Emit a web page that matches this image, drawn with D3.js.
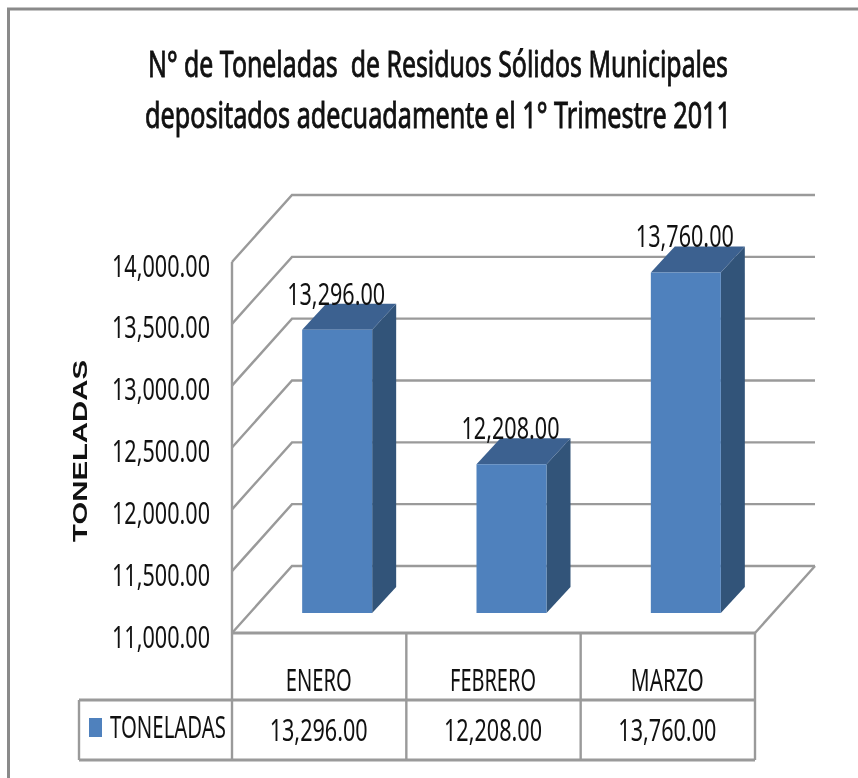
<!DOCTYPE html>
<html><head><meta charset="utf-8">
<script src="https://cdn.jsdelivr.net/npm/d3@7"></script>
<style>html,body{margin:0;padding:0;background:#fff}svg{display:block;filter:blur(0.45px)}text{font-family:"Noto Sans",sans-serif;fill:#111}</style>
</head><body><svg id="c" width="858" height="778"></svg>
<script>
const categories=["ENERO","FEBRERO","MARZO"];
const values=[13296,12208,13760];
const ticks=[11000,11500,12000,12500,13000,13500,14000];
const seriesName="TONELADAS";
const titleLines=["N° de Toneladas  de Residuos Sólidos Municipales","depositados adecuadamente el 1° Trimestre 2011"];
const categoryWidths=[66,86,73];
const svg=d3.select("#c");
const fmt=d3.format(",.2f");
const y=d3.scaleLinear().domain([11000,14000]).range([633,262]);
const x=d3.scaleBand().domain(categories).range([232,755]);
const wallDx=60,wallDy=-67,backRight=815;
const barW=70,barOff=18,barBase=613,bDx=24,bDy=-26;
const barH=v=>y(11000)-y(v);
const grey="#9a9a9a";
const line=(x1,y1,x2,y2,w=2.4,c=grey)=>svg.append("line").attr("x1",x1).attr("y1",y1).attr("x2",x2).attr("y2",y2).attr("stroke",c).attr("stroke-width",w);
// text drawn at a given size, then squeezed horizontally to a measured width
const txt=(s,cx,yy,fs,len,opts={})=>{
  const t=svg.append("text").attr("text-anchor","middle").attr("font-size",fs).style("white-space","pre").text(s);
  if(opts.bold)t.attr("stroke","#111").attr("stroke-width",opts.bold);
  const sx=len/t.node().getComputedTextLength();
  t.attr("transform",`translate(${cx},${yy}) scale(${sx},1)`);
  return t;
};
// frame
line(8.5,8,8.5,778,3,"#8a8a8a");line(7,9,858,9,3,"#8a8a8a");
// title
txt(titleLines[0],438,77,36,580,{bold:0.9});
txt(titleLines[1],438,128,36,586,{bold:0.9});
// walls and gridlines
ticks.forEach(t=>{
  const p=d3.path();
  p.moveTo(x.range()[0],y(t));p.lineTo(x.range()[0]+wallDx,y(t)+wallDy);p.lineTo(backRight,y(t)+wallDy);
  svg.append("path").attr("d",p).attr("fill","none").attr("stroke",grey).attr("stroke-width",2.4);
});
line(232,262,232,633);
// floor right
line(815,566,755,633);
// axis labels
const ax=svg.append("g").attr("transform","translate(210,0)").call(d3.axisLeft(y).tickValues(ticks).tickFormat(fmt).tickSize(0).tickPadding(0));
ax.select(".domain").remove();
ax.attr("font-size",null).attr("font-family",null);
ax.selectAll("text").attr("font-size",31).attr("dy",0).attr("x",0).attr("y",14).each(function(){
  const sx=98/this.getComputedTextLength();
  d3.select(this).attr("transform",`scale(${sx},1)`);
});
// bars
categories.forEach((c,i)=>{
  const xc=x(c)+x.bandwidth()/2+barOff, xl=xc-barW/2, xr=xl+barW, top=barBase-barH(values[i])+0.7;
  const poly=(pts,f)=>svg.append("polygon").attr("points",pts.map(p=>p.join(",")).join(" ")).attr("fill",f);
  poly([[xr,barBase],[xr+bDx,barBase+bDy],[xr+bDx,top+bDy],[xr,top]],"#325479");
  poly([[xl,top],[xl+bDx,top+bDy],[xr+bDx,top+bDy],[xr,top]],"#3c6190");
  poly([[xl,top],[xr,top],[xr,barBase],[xl,barBase]],"#4f81bd");
  txt(fmt(values[i]),xc-1,top-25,31,98);
});
// table
line(232,633,755,633,2.8);
line(79,700,755,700,3);line(79,760,755,760,2.8);
line(79,700,79,760,2.4);
[...categories.map(c=>x(c)),755].forEach(v=>line(v,633,v,760,2.4));
categories.forEach((c,i)=>{
  const cx=x(c)+x.bandwidth()/2-0.5;
  txt(c,cx,691,31,categoryWidths[i]);
  txt(fmt(values[i]),cx,741,31,98);
});
svg.append("rect").attr("x",89).attr("y",718).attr("width",13).attr("height",19).attr("fill","#4f81bd");
txt(seriesName,168,738,31,116);
// axis title
svg.append("text").attr("transform","translate(87,451) rotate(-90)").attr("text-anchor","middle").attr("font-size",21).attr("font-weight",700).attr("textLength",182).attr("lengthAdjust","spacingAndGlyphs").attr("style",'font-family:"Liberation Sans"').text(seriesName);
</script></body></html>
